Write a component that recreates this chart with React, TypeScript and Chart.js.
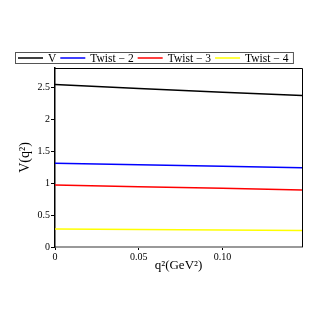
import React, { useEffect, useRef } from "react";
import { Chart, registerables } from "chart.js";

Chart.register(...registerables);

const qSquared = [0, 0.05, 0.1, 0.1475];
const seriesV = [2.54, 2.48, 2.42, 2.37];
const seriesTwist2 = [1.31, 1.287, 1.263, 1.24];
const seriesTwist3 = [0.97, 0.944, 0.918, 0.892];
const seriesTwist4 = [0.28, 0.273, 0.266, 0.26];
const seriesLabels = ["V", "Twist \u2212 2", "Twist \u2212 3", "Twist \u2212 4"];
const seriesColors = ["#000000", "#0000ff", "#ff0000", "#ffff00"];
const yTickValues = [0, 0.5, 1, 1.5, 2, 2.5];
const yTickLabels = ["0", "0.5", "1", "1.5", "2", "2.5"];
const xTickValues = [0, 0.05, 0.1];
const xTickLabels = ["0", "0.05", "0.10"];
const xTitle = "q\u00b2(GeV\u00b2)";
const yTitle = "V(q\u00b2)";

const FONT = "'Liberation Serif', 'DejaVu Serif', serif";

const framePlugin = {
  id: "frameAndLegend",
  afterDraw(chart: any) {
    const { ctx, chartArea } = chart;
    const { left, right, top, bottom } = chartArea;
    ctx.save();
    // top and right frame
    ctx.strokeStyle = "#000";
    ctx.lineWidth = 1;
    ctx.beginPath();
    ctx.moveTo(left, top + 0.5);
    ctx.lineTo(right + 0.5, top + 0.5);
    ctx.lineTo(right + 0.5, bottom);
    ctx.stroke();

    // axis titles
    ctx.fillStyle = "#000";
    ctx.font = `13px ${FONT}`;
    ctx.textAlign = "center";
    ctx.textBaseline = "middle";
    ctx.fillText(xTitle, (left + right) / 2, 266);
    ctx.save();
    ctx.translate(25, (top + bottom) / 2);
    ctx.rotate(-Math.PI / 2);
    ctx.font = `14px ${FONT}`;
    ctx.fillText(yTitle, 0, 0);
    ctx.restore();

    // legend
    ctx.font = `11.5px ${FONT}`;
    ctx.textAlign = "left";
    ctx.textBaseline = "middle";
    const ly = 58;
    let x = 18;
    const lineLen = 25;
    chart.data.datasets.forEach((ds: any, i: number) => {
      ctx.strokeStyle = ds.borderColor;
      ctx.lineWidth = 1.5;
      ctx.beginPath();
      ctx.moveTo(x, ly);
      ctx.lineTo(x + lineLen, ly);
      ctx.stroke();
      x += lineLen + 5;
      ctx.fillStyle = "#000";
      ctx.fillText(ds.label, x, ly + 0.5);
      x += ctx.measureText(ds.label).width + 4;
    });
    ctx.strokeStyle = "#555";
    ctx.lineWidth = 1;
    ctx.strokeRect(15.5, 52.5, x - 15 + 0.5, 11);
    ctx.restore();
  },
};

export default function App() {
  const ref = useRef<HTMLCanvasElement>(null);
  useEffect(() => {
    if (!ref.current) return;
    const all = [seriesV, seriesTwist2, seriesTwist3, seriesTwist4];
    const chart = new Chart(ref.current, {
      type: "line",
      data: {
        datasets: all.map((vals, i) => ({
          label: seriesLabels[i],
          data: vals.map((v, j) => ({ x: qSquared[j], y: v })),
          borderColor: seriesColors[i],
          backgroundColor: seriesColors[i],
          borderWidth: 1.5,
          pointRadius: 0,
          tension: 0,
        })),
      },
      options: {
        responsive: false,
        animation: false,
        devicePixelRatio: 1,
        layout: { padding: { left: 0, right: 25, top: 68, bottom: 0 } },
        plugins: { legend: { display: false }, tooltip: { enabled: false } },
        scales: {
          x: {
            type: "linear",
            min: 0,
            max: 0.1475,
            afterFit: (s: any) => { s.height = 80; },
            afterBuildTicks: (s: any) => { s.ticks = xTickValues.map((v) => ({ value: v })); },
            ticks: {
              font: { family: FONT, size: 10 },
              color: "#000",
              padding: 1,
              maxRotation: 0,
              callback: (v: any) => {
                const i = xTickValues.indexOf(Number(v));
                return i >= 0 ? xTickLabels[i] : "";
              },
            },
            grid: { display: true, drawOnChartArea: false, drawTicks: true, tickLength: 3, color: "#000" },
            border: { display: true, color: "#999", width: 2 },
          },
          y: {
            type: "linear",
            min: 0,
            max: 2.8,
            afterFit: (s: any) => { s.width = 55; },
            afterBuildTicks: (s: any) => { s.ticks = yTickValues.map((v) => ({ value: v })); },
            ticks: {
              font: { family: FONT, size: 10 },
              color: "#000",
              padding: 1,
              callback: (v: any) => {
                const i = yTickValues.indexOf(Number(v));
                return i >= 0 ? yTickLabels[i] : "";
              },
            },
            grid: { display: true, drawOnChartArea: false, drawTicks: true, tickLength: 4, color: "#000" },
            border: { display: true, color: "#000", width: 1.5 },
          },
        },
      },
      plugins: [framePlugin],
    });
    return () => chart.destroy();
  }, []);
  return (
    <div style={{ position: "fixed", left: 0, top: 0, width: 327, height: 327, background: "#fff" }}>
      <canvas ref={ref} width={327} height={327} style={{ width: 327, height: 327 }} />
    </div>
  );
}
